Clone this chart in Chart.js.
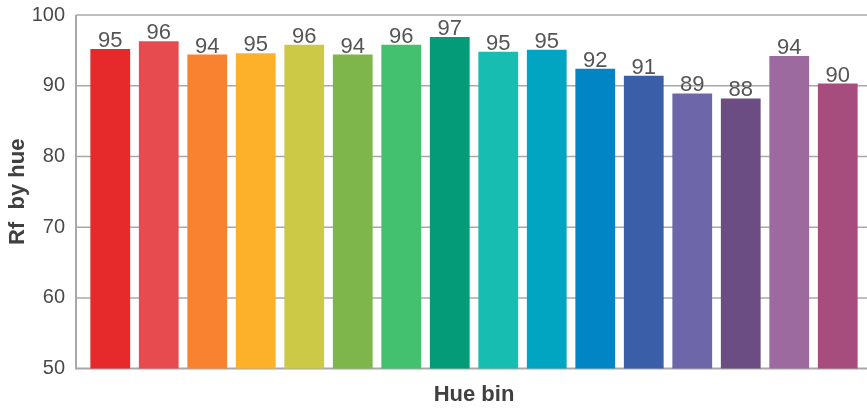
<!DOCTYPE html>
<html lang="en">

<head>
    <meta charset="UTF-8">
    <title>Rf by hue</title>
    <script src="https://cdn.jsdelivr.net/npm/chart.js@4.4.1/dist/chart.umd.min.js"></script>
    <style>
        html, body { margin: 0; padding: 0; background: #fff; }
        #wrap { width: 867px; height: 416px; }
    </style>
</head>

<body>
    <div id="wrap"><canvas id="rfChart"></canvas></div>
    <script>
        // hue bins 1..16
        const hueBins = ['1', '2', '3', '4', '5', '6', '7', '8', '9', '10', '11', '12', '13', '14', '15', '16'];
        const rfValues = [95.2, 96.3, 94.4, 94.6, 95.8, 94.4, 95.8, 96.9, 94.8, 95.1, 92.4, 91.4, 88.9, 88.2, 94.2, 90.3];
        const binColors = ['#e62a2c', '#e84b4f', '#f98230', '#fdb12b', '#cbc945', '#7fb64c', '#43c16e', '#039b78',
            '#17bdb0', '#02a5c1', '#0185c4', '#3a5fa8', '#6d67aa', '#6b4d84', '#9d6aa0', '#a74d7d'];
        const yTicks = [50, 60, 70, 80, 90, 100];

        const fontFamily = '"Liberation Sans", Arial, sans-serif';
        const gridColor = '#a8a8a8';

        // axis frame + horizontal grid, drawn behind the bars
        const framePlugin = {
            id: 'frame',
            beforeDatasetsDraw(chart) {
                const ctx = chart.ctx;
                const area = chart.chartArea;
                const y = chart.scales.y;
                const axisX = area.left - 10;
                ctx.save();
                ctx.strokeStyle = gridColor;
                yTicks.forEach(function (v) {
                    const py = y.getPixelForValue(v);
                    ctx.lineWidth = v === yTicks[0] ? 2 : 1.5;
                    ctx.beginPath();
                    ctx.moveTo(axisX, py);
                    ctx.lineTo(chart.width, py);
                    ctx.stroke();
                });
                ctx.lineWidth = 2;
                ctx.beginPath();
                ctx.moveTo(axisX, y.getPixelForValue(100));
                ctx.lineTo(axisX, y.getPixelForValue(50) + 1);
                ctx.stroke();
                ctx.restore();
            }
        };

        // value labels above bars
        const valueLabels = {
            id: 'valueLabels',
            afterDatasetsDraw(chart) {
                const ctx = chart.ctx;
                const meta = chart.getDatasetMeta(0);
                ctx.save();
                ctx.font = '22px ' + fontFamily;
                ctx.fillStyle = '#555555';
                ctx.textAlign = 'center';
                ctx.textBaseline = 'alphabetic';
                meta.data.forEach(function (bar, i) {
                    ctx.fillText(String(Math.round(rfValues[i])), bar.x, bar.y - 2);
                });
                ctx.restore();
            }
        };

        new Chart(document.getElementById('rfChart').getContext('2d'), {
            type: 'bar',
            data: {
                labels: hueBins,
                datasets: [{
                    label: 'Rf by hue',
                    data: rfValues,
                    backgroundColor: binColors,
                    borderWidth: 0,
                    categoryPercentage: 1,
                    barPercentage: 0.82
                }]
            },
            options: {
                responsive: true,
                maintainAspectRatio: false,
                animation: false,
                layout: { padding: { top: 0, right: 5, bottom: 0, left: 0 } },
                plugins: {
                    legend: { display: false },
                    tooltip: { enabled: false }
                },
                scales: {
                    x: {
                        grid: { display: false, drawTicks: false },
                        border: { display: false },
                        ticks: { display: false },
                        title: {
                            display: true,
                            text: 'Hue bin',
                            color: '#404040',
                            font: { family: fontFamily, size: 22, weight: 'bold' },
                            padding: { top: 13, bottom: 8 }
                        }
                    },
                    y: {
                        min: 50,
                        max: 100,
                        afterFit(scale) { scale.width = 86; },
                        afterBuildTicks(scale) { scale.ticks = yTicks.map(v => ({ value: v })); },
                        grid: { display: false, drawTicks: true, tickLength: 18 },
                        border: { display: false },
                        ticks: {
                            color: '#4a4a4a',
                            padding: 3,
                            font: { family: fontFamily, size: 20 }
                        },
                        title: {
                            display: true,
                            text: 'Rf  by hue',
                            color: '#404040',
                            font: { family: fontFamily, size: 22, weight: 'bold' },
                            padding: { top: 5, bottom: 0 }
                        }
                    }
                }
            },
            plugins: [framePlugin, valueLabels]
        });
    </script>
</body>

</html>
